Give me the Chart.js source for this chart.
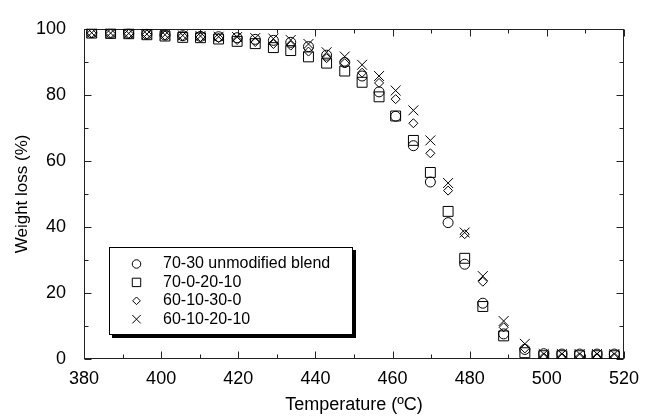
<!DOCTYPE html>
<html>
<head>
<meta charset="utf-8">
<title>TGA weight loss</title>
<script src="https://cdn.jsdelivr.net/npm/chart.js@4.4.1/dist/chart.umd.min.js"></script>
<style>
  html, body { margin: 0; padding: 0; background: #fff; }
  #wrap { width: 648px; height: 418px; }
</style>
</head>
<body>
<div id="wrap"><canvas id="tgaChart" width="648" height="418"></canvas></div>
<script>
// Temperatures of the readings (ºC)
const temperatures = [382, 386.9, 391.6, 396.3, 401, 405.6, 410.2, 414.9, 419.7, 424.4,
  429.1, 433.6, 438.2, 442.9, 447.6, 452.1, 456.5, 460.8, 465.4, 469.8,
  474.4, 478.7, 483.4, 488.8, 494.3, 499.2, 503.9, 508.5, 513.0, 517.5];

// Weight loss (%) for each blend
const blend7030 = [98.8, 98.7, 98.6, 98.4, 98.1, 97.9, 97.7, 97.6, 97.3, 96.8,
  96.5, 95.9, 94.6, 92.0, 89.8, 85.7, 80.9, 73.5, 64.6, 53.6,
  41.3, 28.7, 16.9, 7.6, 2.9, 1.6, 1.5, 1.5, 1.5, 1.5];
const blend700 = [98.7, 98.6, 98.5, 98.2, 97.8, 97.4, 97.3, 96.9, 96.2, 95.5,
  94.3, 93.4, 91.5, 89.6, 87.2, 83.8, 79.4, 73.6, 66.2, 56.5,
  44.7, 30.5, 15.9, 7.0, 1.9, 1.0, 1.0, 1.0, 1.0, 1.0];
const blend6030 = [98.7, 98.6, 98.5, 98.3, 98.0, 97.8, 97.5, 97.2, 96.6, 96.0,
  95.4, 94.9, 93.1, 91.1, 89.6, 86.7, 83.6, 78.7, 71.4, 62.3,
  51.0, 37.8, 23.4, 9.6, 3.2, 0.5, 0.5, 0.5, 0.5, 0.5];
const blend6020 = [98.8, 98.7, 98.6, 98.4, 98.2, 98.0, 97.8, 97.6, 97.5, 97.2,
  97.0, 96.6, 95.4, 92.9, 91.6, 89.1, 85.7, 81.3, 75.3, 66.2,
  53.3, 38.3, 25.1, 11.5, 4.6, 1.5, 1.5, 1.5, 1.5, 1.5];

const seriesNames = ['70-30 unmodified blend', '70-0-20-10', '60-10-30-0', '60-10-20-10'];

const xTicks = [380, 400, 420, 440, 460, 480, 500, 520];
const yTicks = [0, 20, 40, 60, 80, 100];

const FONT = "'Liberation Sans', Arial, Helvetica, sans-serif";

function toPoints(values) {
  return values.map((v, i) => ({ x: temperatures[i], y: v }));
}

function makeSet(label, values, style, radius) {
  return {
    label: label,
    data: toPoints(values),
    pointStyle: style,
    pointRadius: radius,
    pointHoverRadius: radius,
    borderColor: '#000',
    backgroundColor: 'rgba(0,0,0,0)',
    borderWidth: 1,
    pointBorderWidth: 1,
    showLine: false
  };
}

// Box frame with inward ticks on all four sides (majors every 20, minors every 10)
const frameTicks = {
  id: 'frameTicks',
  beforeDatasetsDraw(chart, args, opts) {
    const { ctx, chartArea: a, scales } = chart;
    const L = Math.round(a.left) + 0.5, R = Math.round(a.right) - 0.5;
    const T = Math.round(a.top) + 0.5, B = Math.round(a.bottom) - 0.5;
    ctx.save();
    ctx.strokeStyle = opts.color;
    ctx.lineWidth = 1;
    ctx.strokeRect(L, T, R - L, B - T);
    ctx.beginPath();
    for (let v = scales.x.min; v <= scales.x.max; v += 10) {
      const len = v % 20 === 0 ? opts.major : opts.minor;
      const px = Math.round(scales.x.getPixelForValue(v)) + 0.5;
      ctx.moveTo(px, B); ctx.lineTo(px, B - len);
      ctx.moveTo(px, T); ctx.lineTo(px, T + len);
    }
    for (let v = scales.y.min; v <= scales.y.max; v += 10) {
      const len = v % 20 === 0 ? opts.major : opts.minor;
      const py = Math.round(scales.y.getPixelForValue(v)) + 0.5;
      ctx.moveTo(L, py); ctx.lineTo(L + len, py);
      ctx.moveTo(R, py); ctx.lineTo(R - len, py);
    }
    ctx.stroke();
    ctx.restore();
  }
};

// Boxed legend with a drop shadow, sitting inside the plot
const boxLegend = {
  id: 'boxLegend',
  afterDatasetsDraw(chart, args, o) {
    const ctx = chart.ctx;
    ctx.save();
    ctx.fillStyle = '#000';
    ctx.fillRect(o.left + o.shadow, o.top + o.shadow, o.width, o.height);
    ctx.fillStyle = '#fff';
    ctx.fillRect(o.left, o.top, o.width, o.height);
    ctx.strokeStyle = '#000';
    ctx.lineWidth = 1;
    ctx.strokeRect(o.left + 0.5, o.top + 0.5, o.width - 1, o.height - 1);

    ctx.font = o.font;
    ctx.textBaseline = 'middle';
    chart.data.datasets.forEach((ds, i) => {
      const y = o.top + o.firstRow + i * o.rowHeight;
      ctx.strokeStyle = '#000';
      ctx.fillStyle = 'rgba(0,0,0,0)';
      ctx.lineWidth = 1;
      Chart.helpers.drawPoint(ctx, {
        pointStyle: ds.pointStyle,
        radius: ds.pointRadius * o.symbolScale,
        borderWidth: 1,
        rotation: 0
      }, o.left + o.symbolX, y);
      ctx.fillStyle = '#000';
      ctx.fillText(ds.label, o.left + o.textX, y);
    });
    ctx.restore();
  }
};

const ctx = document.getElementById('tgaChart').getContext('2d');
const tgaChart = new Chart(ctx, {
  type: 'scatter',
  data: {
    datasets: [
      makeSet(seriesNames[0], blend7030, 'circle', 5),
      makeSet(seriesNames[1], blend700, 'rect', 7),
      makeSet(seriesNames[2], blend6030, 'rectRot', 4.5),
      makeSet(seriesNames[3], blend6020, 'crossRot', 7)
    ]
  },
  options: {
    responsive: false,
    animation: false,
    devicePixelRatio: 1,
    layout: { padding: { left: 0, right: 16, top: 17, bottom: 0 } },
    plugins: {
      legend: { display: false },
      tooltip: { enabled: false },
      frameTicks: { color: '#222', major: 7, minor: 4 },
      boxLegend: {
        left: 109, top: 247, width: 244, height: 88, shadow: 3,
        firstRow: 17, rowHeight: 18.4, symbolX: 27.5, textX: 54,
        symbolScale: 0.85,
        font: "16px " + FONT
      }
    },
    scales: {
      x: {
        type: 'linear',
        min: 380,
        max: 520,
        afterBuildTicks: (scale) => { scale.ticks = xTicks.map(v => ({ value: v })); },
        afterFit: (scale) => { scale.height = 59; },
        grid: { display: false, drawTicks: false },
        border: { display: false },
        ticks: { color: '#000', padding: 9, maxRotation: 0, font: { family: FONT, size: 18 } },
        title: {
          display: true,
          text: 'Temperature (ºC)',
          color: '#000',
          padding: { top: 0, bottom: 2 },
          font: { family: FONT, size: 18 }
        }
      },
      y: {
        type: 'linear',
        min: 0,
        max: 100,
        afterBuildTicks: (scale) => { scale.ticks = yTicks.map(v => ({ value: v })); },
        afterFit: (scale) => { scale.width = 84; },
        grid: { display: false, drawTicks: false },
        border: { display: false },
        ticks: { color: '#000', padding: 18, font: { family: FONT, size: 18 } },
        title: {
          display: true,
          text: 'Weight loss (%)',
          color: '#000',
          padding: { top: 12, bottom: 0 },
          font: { family: FONT, size: 17 }
        }
      }
    }
  },
  plugins: [frameTicks, boxLegend]
});
</script>
</body>
</html>
